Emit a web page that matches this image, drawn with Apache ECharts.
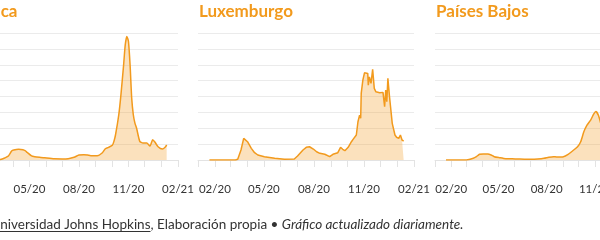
<!DOCTYPE html>
<html><head><meta charset="utf-8">
<script src="https://cdn.jsdelivr.net/npm/echarts@6/dist/echarts.min.js"></script>
<style>html,body{margin:0;padding:0;background:#fff;overflow:hidden;width:600px;height:240px}#c{position:absolute;left:-38px;top:0;width:700px;height:240px}</style>
</head><body><div id="c"></div>
<script>
// ---- data ----
const titles = ['Bélgica', 'Luxemburgo', 'Países Bajos'];

const belgiumDates = ['2020-01-22','2020-03-01','2020-03-05','2020-03-10','2020-03-16','2020-03-23','2020-03-29','2020-04-02','2020-04-11','2020-04-19','2020-04-23','2020-04-27','2020-05-05','2020-05-11','2020-05-20','2020-05-29','2020-06-16','2020-07-01','2020-07-12','2020-07-23','2020-08-01','2020-08-10','2020-08-17','2020-08-23','2020-09-04','2020-09-13','2020-09-19','2020-09-25','2020-10-02','2020-10-05','2020-10-08','2020-10-14','2020-10-18','2020-10-23','2020-10-26','2020-10-29','2020-11-01','2020-11-04','2020-11-07','2020-11-10','2020-11-13','2020-11-16','2020-11-22','2020-11-28','2020-12-05','2020-12-11','2020-12-13','2020-12-16','2020-12-20','2020-12-26','2021-01-03','2021-01-08','2021-01-11'];
const belgiumValues = [0,0,2,9,25,50,113,126,135,130,118,95,52,42,34,28,16,14,17,34,63,67,62,54,54,88,142,160,185,235,318,570,821,1199,1450,1556,1493,1199,780,570,465,403,235,214,214,176,205,255,226,167,138,160,189];

const luxDates = ['2020-01-22','2020-03-10','2020-03-14','2020-03-20','2020-03-25','2020-03-28','2020-04-01','2020-04-08','2020-04-14','2020-04-20','2020-05-02','2020-05-21','2020-06-08','2020-06-26','2020-07-02','2020-07-12','2020-07-18','2020-07-24','2020-07-31','2020-08-06','2020-08-12','2020-08-21','2020-08-24','2020-08-30','2020-09-05','2020-09-08','2020-09-14','2020-09-19','2020-09-23','2020-09-27','2020-10-03','2020-10-09','2020-10-12','2020-10-15','2020-10-18','2020-10-21','2020-10-24','2020-10-26','2020-10-27','2020-10-30','2020-11-02','2020-11-05','2020-11-08','2020-11-09','2020-11-11','2020-11-14','2020-11-17','2020-11-20','2020-11-23','2020-11-30','2020-12-06','2020-12-09','2020-12-11','2020-12-13','2020-12-15','2020-12-18','2020-12-23','2020-12-28','2020-12-31','2021-01-04','2021-01-07','2021-01-10','2021-01-13'];
const luxValues = [0,0,10,126,273,281,230,147,92,63,42,21,9,13,50,126,160,167,138,104,84,72,84,42,72,50,92,160,135,117,160,230,260,260,315,482,566,525,839,1006,1098,1111,1091,943,1048,965,1141,902,859,847,852,671,881,734,1028,797,462,315,286,273,315,252,239];

const nlDates = ['2020-01-22','2020-03-01','2020-03-14','2020-03-20','2020-03-26','2020-04-02','2020-04-11','2020-04-17','2020-04-23','2020-05-03','2020-05-15','2020-06-02','2020-06-20','2020-07-03','2020-07-15','2020-07-27','2020-08-05','2020-08-14','2020-08-20','2020-09-02','2020-09-11','2020-09-20','2020-09-29','2020-10-05','2020-10-11','2020-10-17','2020-10-24','2020-10-30','2020-11-03','2020-11-08','2020-11-14','2020-11-20','2020-12-01','2020-12-10','2020-12-20','2020-12-27','2021-01-05','2021-01-12'];
const nlValues = [0,0,21,42,72,75,75,63,42,29,16,14,10,8,12,21,34,42,38,42,72,117,167,230,356,440,503,580,610,560,420,300,280,360,700,650,500,400];

const monthTicks = ['2020-01-01','2020-02-01','2020-03-01','2020-04-01','2020-05-01','2020-06-01','2020-07-01','2020-08-01','2020-09-01','2020-10-01','2020-11-01','2020-12-01','2021-01-01','2021-02-01'];
const labelTicks = ['2020-02-01','2020-05-01','2020-08-01','2020-11-01','2021-02-01'];
const tickLabels = ['02/20','05/20','08/20','11/20','02/21'];

// ---- helpers ----
function ts(s){ const p = s.split('-').map(Number); return Date.UTC(p[0], p[1]-1, p[2]); }
const monthTs = monthTicks.map(ts);
const labelTs = labelTicks.map(ts);
const seriesSets = [[belgiumDates, belgiumValues],[luxDates, luxValues],[nlDates, nlValues]];

const FONT = 'Lato';
const ORANGE = '#f29a1d';
const SHIFT = 38; // container is shifted left by this many px
const gridLefts = [0, 236, 473];
const W = 216;

const grids = [], xAxes = [], yAxes = [], series = [], titleCmp = [];
gridLefts.forEach((l, i) => {
  grids.push({ left: l, width: W, top: 33, bottom: 80, containLabel: false });
  xAxes.push({
    type: 'value', gridIndex: i, min: ts('2020-01-01'), max: ts('2021-02-01'), offset: 15,
    axisLine: { lineStyle: { color: '#e3e3e3', width: 1 } },
    axisTick: { customValues: monthTs, length: 7, lineStyle: { color: '#e3e3e3' } },
    axisLabel: { customValues: labelTs, color: '#333', fontSize: 11.5, fontFamily: FONT, margin: 8,
      formatter: v => { const k = labelTs.indexOf(v); return k >= 0 ? tickLabels[k] : ''; } },
    splitLine: { show: false }
  });
  yAxes.push({
    type: 'value', gridIndex: i, min: 0, max: 1600, interval: 200,
    axisLabel: { show: false }, axisLine: { show: false }, axisTick: { show: false },
    splitLine: { lineStyle: { color: '#ebebeb', width: 1 } }
  });
  const [d, v] = seriesSets[i];
  series.push({
    type: 'line', xAxisIndex: i, yAxisIndex: i, showSymbol: false, smooth: i === 1 ? false : 0.2,
    data: d.map((s, k) => [ts(s), v[k]]),
    lineStyle: { color: ORANGE, width: 1.5 },
    itemStyle: { color: ORANGE },
    areaStyle: { color: 'rgba(242,154,29,0.42)' },
    animation: false
  });
  titleCmp.push({ text: titles[i], left: l + 1, top: 3,
    textStyle: { color: ORANGE, fontFamily: FONT, fontWeight: 'bold', fontSize: 17 }, padding: 0 });
});

// footer
const FS = 13.5;
const cv = document.createElement('canvas').getContext('2d');
cv.font = FS + 'px ' + FONT;
const pre = 'Fuente: ';
const link = 'Universidad Johns Hopkins';
const fx = SHIFT - cv.measureText(pre + 'U').width + 0.5;
const ulStart = fx + cv.measureText(pre).width;
const ulEnd = fx + cv.measureText(pre + link).width;

const chart = echarts.init(document.getElementById('c'), null, { renderer: 'canvas' });
chart.setOption({
  animation: false,
  title: titleCmp,
  grid: grids, xAxis: xAxes, yAxis: yAxes, series: series,
  graphic: [
    { type: 'text', x: fx, y: 225, style: {
      text: '{a|' + pre + '}{a|' + link + '}{a|, Elaboración propia • }{c|Gráfico actualizado diariamente.}',
      verticalAlign: 'middle',
      rich: {
        a: { fontFamily: FONT, fontSize: FS, fill: '#333' },
        c: { fontFamily: FONT, fontSize: FS, fill: '#333', fontStyle: 'italic' }
      } } },
    { type: 'line', shape: { x1: ulStart, y1: 231.5, x2: ulEnd, y2: 231.5 }, style: { stroke: '#333', lineWidth: 1 } }
  ]
});
</script></body></html>
